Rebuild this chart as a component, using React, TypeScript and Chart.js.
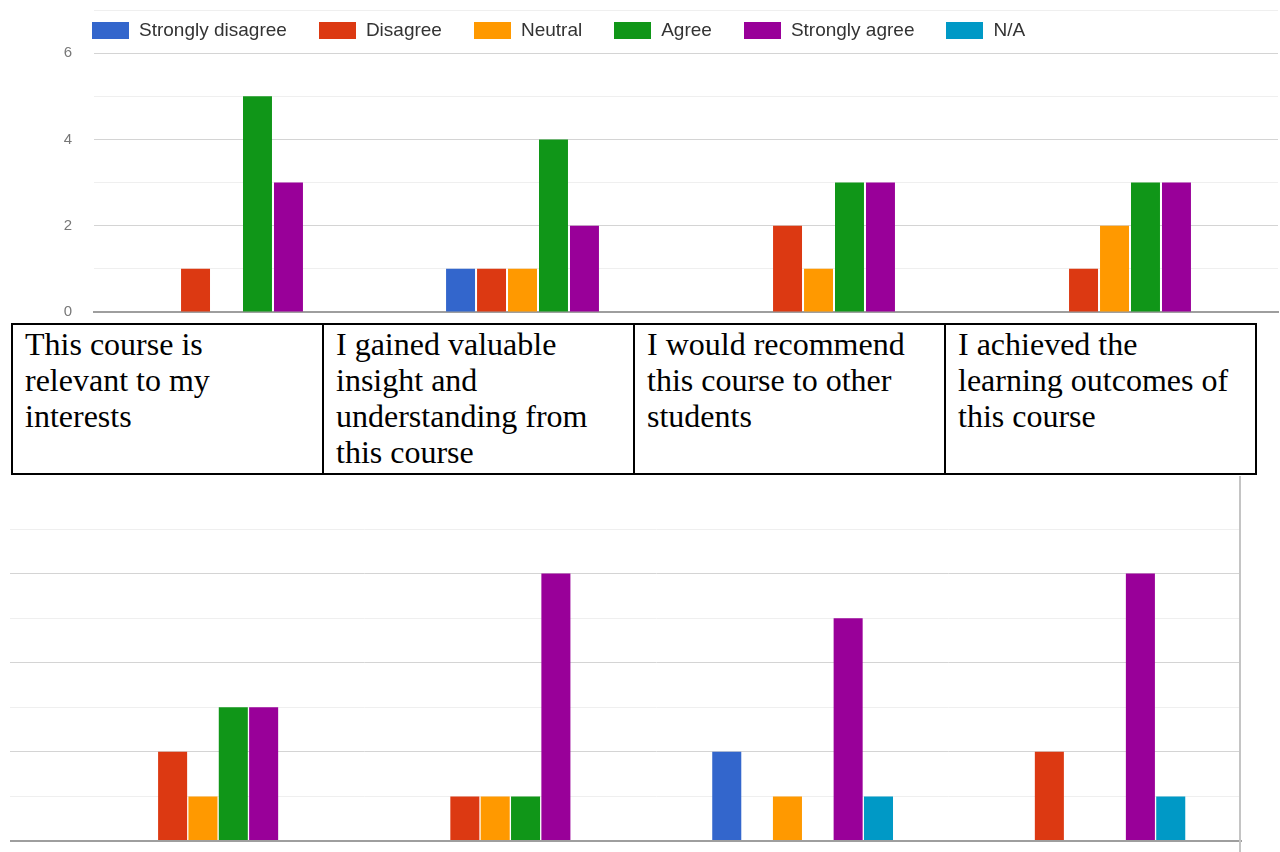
import React, { useEffect, useRef } from "react";
import { Chart, registerables } from "chart.js";

Chart.register(...registerables);

// ---- data ----
const seriesNames = ["Strongly disagree", "Disagree", "Neutral", "Agree", "Strongly agree", "N/A"];
const seriesColors = ["#3366CC", "#DC3912", "#FF9900", "#109618", "#990099", "#0099C6"];
const statements = [
  "This course is relevant to my interests",
  "I gained valuable insight and understanding from this course",
  "I would recommend this course to other students",
  "I achieved the learning outcomes of this course",
];

// upper chart
const topStronglyDisagree = [0, 1, 0, 0];
const topDisagree = [1, 1, 2, 1];
const topNeutral = [0, 1, 1, 2];
const topAgree = [5, 4, 3, 3];
const topStronglyAgree = [3, 2, 3, 3];
const topNA = [0, 0, 0, 0];
const topTickLabels = [0, 2, 4, 6];

// lower chart
const bottomStronglyDisagree = [0, 0, 2, 0];
const bottomDisagree = [2, 1, 0, 2];
const bottomNeutral = [1, 1, 1, 0];
const bottomAgree = [3, 1, 0, 0];
const bottomStronglyAgree = [3, 6, 5, 6];
const bottomNA = [0, 0, 1, 1];

const topSeries = [topStronglyDisagree, topDisagree, topNeutral, topAgree, topStronglyAgree, topNA];
const bottomSeries = [bottomStronglyDisagree, bottomDisagree, bottomNeutral, bottomAgree, bottomStronglyAgree, bottomNA];

const gridColor = (v: number) => (v === 0 ? "#9e9e9e" : v % 2 === 0 ? "#d4d4d4" : "#efefef");

function buildDatasets(series: number[][], barPct: number, catPct: number) {
  return series.map((vals, i) => ({
    label: seriesNames[i],
    data: vals,
    backgroundColor: seriesColors[i],
    borderWidth: 0,
    barPercentage: barPct,
    categoryPercentage: catPct,
  }));
}

function TopChart() {
  const ref = useRef<HTMLCanvasElement>(null);
  useEffect(() => {
    if (!ref.current) return;
    const chart = new Chart(ref.current, {
      type: "bar",
      data: { labels: statements, datasets: buildDatasets(topSeries, 0.935, 0.628) as any },
      options: {
        responsive: false,
        animation: false,
        layout: { padding: { top: 10, right: 2, bottom: 10, left: 0 } },
        plugins: { legend: { display: false }, tooltip: { enabled: false } },
        scales: {
          x: {
            grid: { display: false, drawTicks: false },
            ticks: { display: false },
            border: { display: true, color: "#9e9e9e", width: 2 },
            afterFit: (s: any) => {
              s.height = 0;
            },
          },
          y: {
            min: 0,
            max: 7,
            grid: {
              drawTicks: true,
              tickLength: 22,
              tickColor: "rgba(0,0,0,0)",
              color: (c: any) => gridColor(c.tick.value),
              lineWidth: 1,
            },
            border: { display: false },
            ticks: {
              stepSize: 1,
              padding: 0,
              color: "#777",
              font: { family: "'Liberation Sans', Arial, sans-serif", size: 15 },
              callback: (v: any) => (topTickLabels.includes(Number(v)) ? String(v) : ""),
            },
            afterFit: (s: any) => {
              s.width = 94;
            },
          },
        },
      },
    });
    return () => chart.destroy();
  }, []);
  return <canvas ref={ref} width={1280} height={322} style={{ display: "block" }} />;
}

function BottomChart() {
  const ref = useRef<HTMLCanvasElement>(null);
  useEffect(() => {
    if (!ref.current) return;
    const chart = new Chart(ref.current, {
      type: "bar",
      data: { labels: statements, datasets: buildDatasets(bottomSeries, 0.957, 0.623) as any },
      options: {
        responsive: false,
        animation: false,
        layout: { padding: { top: 55, right: 39, bottom: 11, left: 0 } },
        plugins: { legend: { display: false }, tooltip: { enabled: false } },
        scales: {
          x: {
            grid: { display: false, drawTicks: false },
            ticks: { display: false },
            border: { display: true, color: "#9e9e9e", width: 2 },
            afterFit: (s: any) => {
              s.height = 0;
            },
          },
          y: {
            min: 0,
            max: 7,
            grid: {
              drawTicks: true,
              tickLength: 62,
              color: (c: any) => gridColor(c.tick.value),
              lineWidth: (c: any) => (c.tick.value === 0 ? 2 : 1),
            },
            border: { display: false },
            ticks: { display: false, stepSize: 1 },
            afterFit: (s: any) => {
              s.width = 72;
            },
          },
        },
      },
    });
    return () => chart.destroy();
  }, []);
  return <canvas ref={ref} width={1280} height={378} style={{ display: "block" }} />;
}

function Legend() {
  return (
    <div
      style={{
        position: "absolute",
        left: 92,
        top: 20,
        height: 20,
        display: "flex",
        alignItems: "center",
        gap: 32,
        fontFamily: "'Liberation Sans', Arial, sans-serif",
        fontSize: 19,
        lineHeight: "20px",
        color: "#333",
        whiteSpace: "nowrap",
      }}
    >
      {seriesNames.map((n, i) => (
        <div key={n} style={{ display: "flex", alignItems: "center" }}>
          <span style={{ display: "inline-block", width: 37, height: 17, background: seriesColors[i], marginRight: 10 }} />
          <span>{n}</span>
        </div>
      ))}
    </div>
  );
}

export default function App() {
  const cell: React.CSSProperties = {
    border: "2px solid #000",
    verticalAlign: "top",
    padding: "1px 14px 0 12px",
    width: 283,
    height: 147,
    boxSizing: "content-box",
  };
  return (
    <div style={{ position: "absolute", left: 0, top: 0, width: 1280, height: 852, background: "#fff", overflow: "hidden" }}>
      <div style={{ position: "absolute", left: 0, top: 0 }}>
        <TopChart />
      </div>
      <Legend />
      <table
        style={{
          position: "absolute",
          left: 11,
          top: 323,
          borderCollapse: "collapse",
          fontFamily: "'Liberation Serif', 'Times New Roman', serif",
          fontSize: 32,
          lineHeight: "36px",
          color: "#000",
          tableLayout: "fixed",
        }}
      >
        <tbody>
          <tr>
            {statements.map((s) => (
              <td key={s} style={cell}>
                {s}
              </td>
            ))}
          </tr>
        </tbody>
      </table>
      <div style={{ position: "absolute", left: 0, top: 474 }}>
        <BottomChart />
      </div>
      <div style={{ position: "absolute", left: 1239, top: 476, width: 2, height: 376, background: "#c4c4c4" }} />
    </div>
  );
}
